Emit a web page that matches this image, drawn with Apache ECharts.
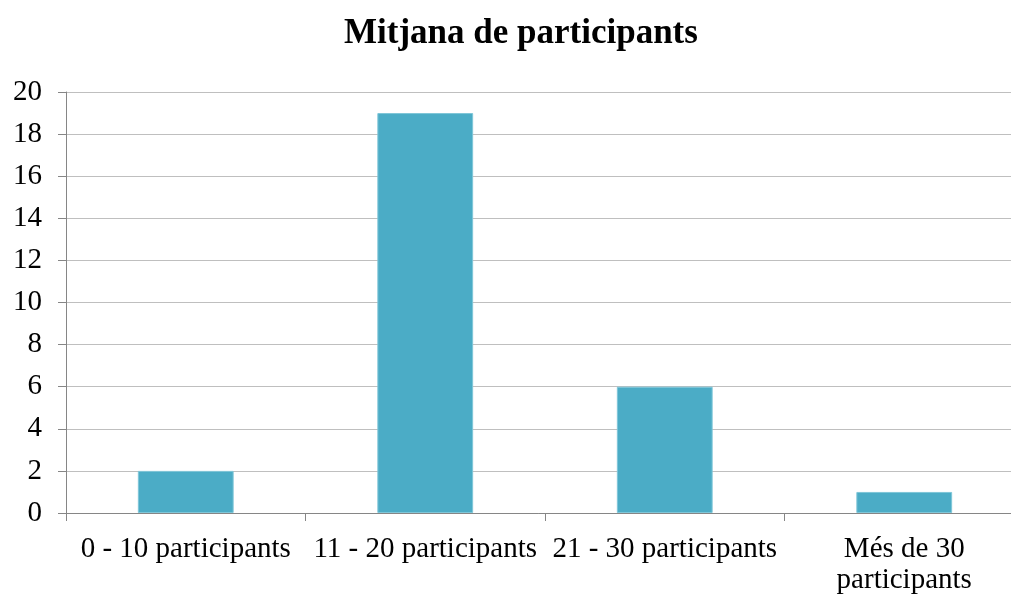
<!DOCTYPE html>
<html>
<head>
<meta charset="utf-8">
<script src="https://cdn.jsdelivr.net/npm/echarts@6/dist/echarts.min.js"></script>
<style>
  html, body { margin: 0; padding: 0; background: #fff; }
  #chart { width: 1011px; height: 596px; }
</style>
</head>
<body>
<div id="chart"></div>
<script>
// categories and values
const categories = ['0 - 10 participants', '11 - 20 participants', '21 - 30 participants', 'Més de 30\nparticipants'];
const values = [2, 19, 6, 1];

const font = '"Liberation Serif", "Times New Roman", serif';

const myChart = echarts.init(document.getElementById('chart'));

const option = {
  animation: false,
  title: {
    text: 'Mitjana de participants',
    left: 339,
    top: 11,
    textStyle: { fontFamily: font, fontSize: 35, fontWeight: 'bold', color: '#000' },
  },
  // plot area runs a little past the right edge of the picture
  grid: { left: 66, width: 958, top: 92, bottom: 83, outerBoundsMode: 'none' },
  xAxis: {
    type: 'category',
    data: categories,
    axisLine: { lineStyle: { color: '#868686', width: 1 } },
    axisTick: { show: true, length: 8, lineStyle: { color: '#868686' } },
    axisLabel: { fontFamily: font, fontSize: 29, color: '#000', margin: 21, lineHeight: 31, interval: 0 },
  },
  yAxis: {
    type: 'value',
    min: 0,
    max: 20,
    interval: 2,
    axisLine: { show: true, lineStyle: { color: '#868686', width: 1 } },
    axisTick: { show: true, length: 8, lineStyle: { color: '#868686' } },
    axisLabel: { fontFamily: font, fontSize: 29, color: '#000', margin: 24 },
    splitLine: { lineStyle: { color: '#BFBFBF', width: 1 } },
  },
  series: [
    {
      type: 'bar',
      data: values,
      barWidth: '40%',
      itemStyle: { color: '#4BACC6', borderColor: '#7FC6D8', borderWidth: 1 },
    },
  ],
};
myChart.setOption(option);
</script>
</body>
</html>
